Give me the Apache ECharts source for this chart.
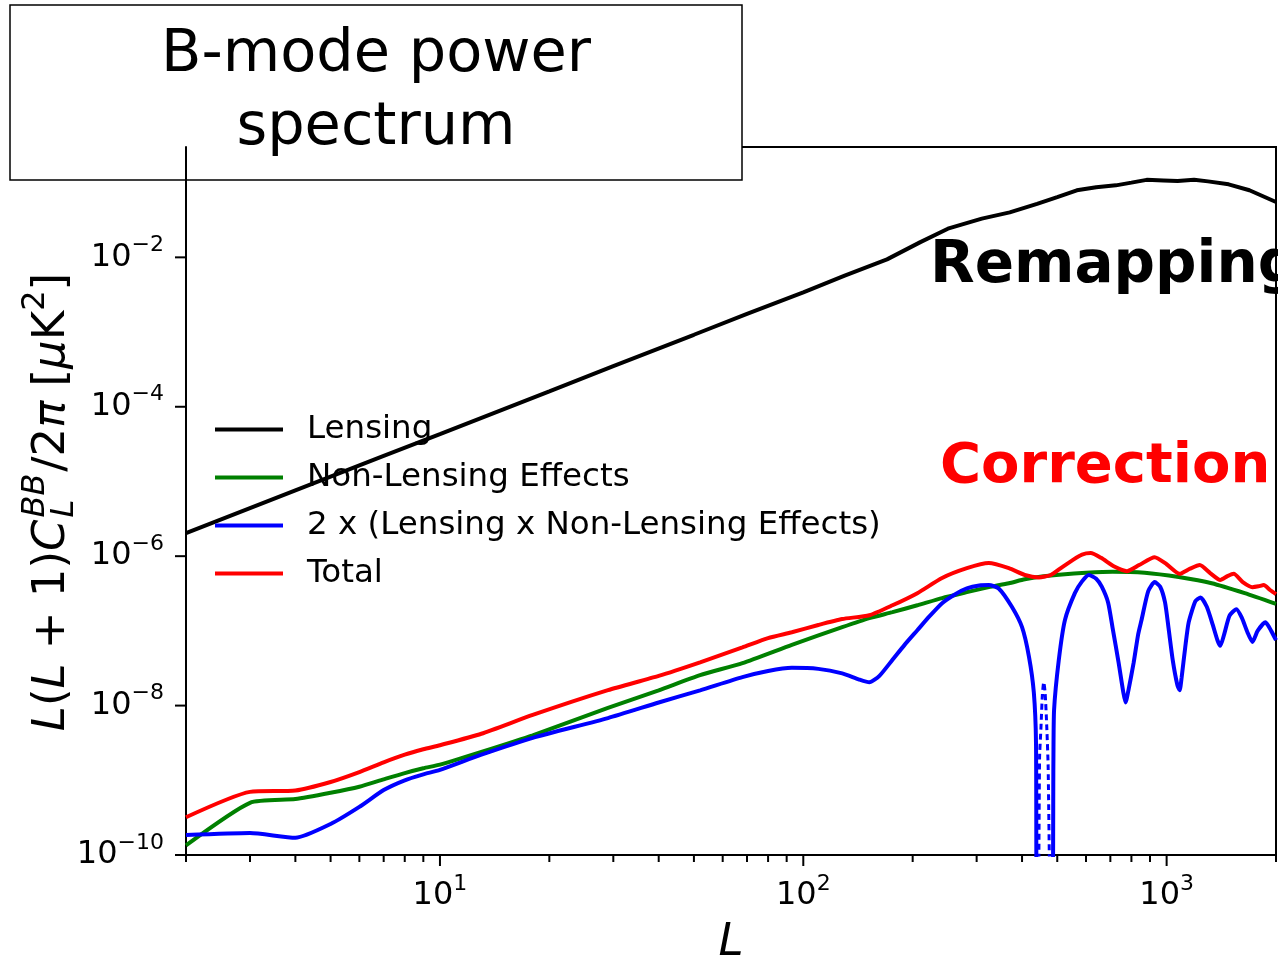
<!DOCTYPE html>
<html>
<head>
<meta charset="utf-8">
<script src="https://cdn.jsdelivr.net/npm/echarts@6/dist/echarts.min.js"></script>
<style>
  html, body { margin: 0; padding: 0; background: #fff; }
  #chart { width: 1278px; height: 960px; }
</style>
</head>
<body>
<div id="chart"></div>
<script>
// 数据
const lensingL = [2, 3, 4, 5, 7, 10, 15, 20, 30, 50, 70, 100, 130, 170, 210, 250, 310, 370, 440, 500, 566, 640, 725, 800, 881, 980, 1072, 1190, 1300, 1481, 1690, 2000];
const lensingCl = [2.03e-6, 4.4e-6, 7.6e-6, 1.16e-5, 2.2e-5, 4.3e-5, 9.3e-5, 1.61e-4, 3.5e-4, 9.2e-4, 1.75e-3, 3.4e-3, 5.7e-3, 9.4e-3, 1.6e-2, 2.42e-2, 3.3e-2, 4.0e-2, 5.2e-2, 6.4e-2, 7.9e-2, 8.7e-2, 9.2e-2, 1.0e-1, 1.09e-1, 1.07e-1, 1.05e-1, 1.09e-1, 1.04e-1, 9.5e-2, 7.9e-2, 5.5e-2];

const nonLensL = [2, 3, 4, 5, 6, 7, 8, 9, 10, 13, 18, 29, 40, 52, 68, 93, 128, 152, 176, 206, 241, 282, 324, 368, 407, 454, 515, 600, 710, 870, 1080, 1330, 1640, 2000];
const nonLensCl = [1.35e-10, 5.0e-10, 5.6e-10, 6.8e-10, 8.2e-10, 1.03e-9, 1.25e-9, 1.45e-9, 1.62e-9, 2.4e-9, 4.0e-9, 9.3e-9, 1.6e-8, 2.56e-8, 3.7e-8, 6.5e-8, 1.12e-7, 1.48e-7, 1.78e-7, 2.2e-7, 2.75e-7, 3.3e-7, 3.85e-7, 4.35e-7, 4.9e-7, 5.35e-7, 5.7e-7, 6.0e-7, 6.2e-7, 6.0e-7, 5.25e-7, 4.35e-7, 3.2e-7, 2.3e-7];

const crossL = [2, 3, 4, 5, 6, 7, 8, 9, 10, 13, 18, 29, 40, 52, 68, 80, 93, 110, 128, 142, 152, 162, 176, 190, 206, 222, 241, 262, 282, 305, 324, 345, 375, 400, 418, 431, 437, 440, 483, 488, 490, 505, 525, 559, 585, 611, 640, 663, 690, 710, 738, 760, 771, 785, 811, 835, 853, 890, 927, 960, 990, 1012, 1040, 1070, 1086, 1100, 1125, 1150, 1200, 1240, 1290, 1340, 1380, 1405, 1440, 1490, 1556, 1610, 1670, 1722, 1780, 1871, 1940, 2000];
const crossCl = [1.85e-10, 1.97e-10, 1.7e-10, 2.6e-10, 4.4e-10, 7.4e-10, 1.0e-9, 1.2e-9, 1.38e-9, 2.2e-9, 3.7e-9, 6.8e-9, 1.1e-8, 1.6e-8, 2.4e-8, 2.9e-8, 3.2e-8, 3.1e-8, 2.7e-8, 2.25e-8, 2.05e-8, 2.5e-8, 4.1e-8, 6.5e-8, 1.02e-7, 1.55e-7, 2.35e-7, 3.1e-7, 3.7e-7, 4.05e-7, 4.1e-7, 3.7e-7, 2.1e-7, 1.12e-7, 4.5e-8, 1.5e-8, 3.2e-9, 1e-11, 1e-11, 1.9e-9, 8.7e-9, 4.1e-8, 1.4e-7, 3.2e-7, 4.6e-7, 5.6e-7, 5.0e-7, 3.9e-7, 2.4e-7, 1.1e-7, 3.7e-8, 1.5e-8, 1.1e-8, 1.6e-8, 3.7e-8, 9e-8, 1.4e-7, 3.4e-7, 4.5e-7, 3.9e-7, 2.4e-7, 1.1e-7, 4e-8, 1.9e-8, 1.6e-8, 2.4e-8, 6e-8, 1.3e-7, 2.5e-7, 2.8e-7, 2.1e-7, 1.2e-7, 7.5e-8, 6.3e-8, 9e-8, 1.6e-7, 1.95e-7, 1.5e-7, 9.5e-8, 7.1e-8, 1.0e-7, 1.3e-7, 1.0e-7, 7.5e-8];

// 负值部分（虚线，取绝对值）
const crossNegL = [444, 447, 451, 455, 459, 463, 468, 472, 478];
const crossNegCl = [1e-11, 2e-9, 5.1e-9, 1.4e-8, 2.06e-8, 1.5e-8, 5e-9, 1.5e-9, 1e-11];

const totalL = [2, 3, 4, 5, 6, 7, 8, 9, 10, 13, 18, 29, 40, 52, 68, 80, 93, 110, 128, 152, 176, 206, 241, 282, 324, 368, 407, 445, 480, 515, 550, 585, 618, 660, 720, 778, 840, 927, 1000, 1086, 1160, 1234, 1320, 1405, 1470, 1530, 1620, 1722, 1790, 1850, 1930, 2000];
const totalCl = [3.2e-10, 7.0e-10, 7.3e-10, 9.5e-10, 1.29e-9, 1.74e-9, 2.2e-9, 2.6e-9, 2.95e-9, 4.2e-9, 7.5e-9, 1.61e-8, 2.5e-8, 3.8e-8, 6.0e-8, 8.0e-8, 9.6e-8, 1.2e-7, 1.44e-7, 1.62e-7, 2.2e-7, 3.2e-7, 5.1e-7, 6.9e-7, 8.1e-7, 6.9e-7, 5.6e-7, 5.2e-7, 5.6e-7, 7.1e-7, 8.8e-7, 1.05e-6, 1.1e-6, 9.5e-7, 7.2e-7, 6.3e-7, 7.6e-7, 9.7e-7, 7.8e-7, 5.8e-7, 6.8e-7, 7.6e-7, 5.9e-7, 4.8e-7, 5.4e-7, 5.8e-7, 4.5e-7, 3.85e-7, 3.95e-7, 4.1e-7, 3.5e-7, 3.1e-7];

const legendNames = ['Lensing', 'Non-Lensing Effects', '2 x (Lensing x Non-Lensing Effects)', 'Total'];

// 刻度
const xMajorTicks = [10, 100, 1000];
const xMinorTicks = [2, 3, 4, 5, 6, 7, 8, 9, 20, 30, 40, 50, 60, 70, 80, 90, 200, 300, 400, 500, 600, 700, 800, 900, 2000];
const yMajorTicks = [1e-10, 1e-8, 1e-6, 1e-4, 1e-2];

const X_MIN = 2, X_MAX = 2000, Y_MIN = 1e-10, Y_MAX = 0.3;
const FONT = '"DejaVu Sans", sans-serif';

const pairs = (xs, ys) => xs.map((x, i) => [x, ys[i]]);

const supRich = {
  base: { fontSize: 32, fontFamily: FONT, color: '#000' },
  sup: { fontSize: 22, fontFamily: FONT, color: '#000', padding: [0, 0, 24, 0] }
};

const expLabel = (v, onlyEven) => {
  const e = Math.log10(v);
  const r = Math.round(e);
  if (Math.abs(e - r) > 1e-6) return '';
  if (onlyEven && r % 2 !== 0) return '';
  return '{base|10}{sup|' + String(r).replace('-', '\u2212') + '}';
};

// y轴标题：旋转的公式文字
const measure = document.createElement('canvas').getContext('2d');
const textW = (t, size, italic) => {
  measure.font = (italic ? 'italic ' : '') + size + 'px ' + FONT;
  return measure.measureText(t).width;
};
const yLabelParts = [
  { t: 'L', s: 45, i: true, dy: 0 },
  { t: '(', s: 45, i: false, dy: 0 },
  { t: 'L', s: 45, i: true, dy: 0 },
  { t: ' + 1)', s: 45, i: false, dy: 0 },
  { t: 'C', s: 45, i: true, dy: 0 },
  { t: 'BB', s: 32, i: true, dy: -16, stack: true },
  { t: 'L', s: 32, i: true, dy: 13, after: 'BB' },
  { t: '/2', s: 45, i: false, dy: 0 },
  { t: '\u03c0', s: 45, i: true, dy: 0 },
  { t: ' [', s: 45, i: false, dy: 0 },
  { t: '\u03bc', s: 45, i: true, dy: 0 },
  { t: 'K', s: 45, i: false, dy: 0 },
  { t: '2', s: 32, i: false, dy: -16 },
  { t: ']', s: 45, i: false, dy: 0 }
];
const yLabelChildren = [];
let cursor = 0;
let stackStart = 0;
yLabelParts.forEach(p => {
  let x = cursor;
  if (p.after) x = stackStart;
  yLabelChildren.push({
    type: 'text', x: x, y: p.dy,
    style: { text: p.t, fontSize: p.s, fontFamily: FONT, fontStyle: p.i ? 'italic' : 'normal', fill: '#000', align: 'left', verticalAlign: 'middle' }
  });
  if (p.stack) { stackStart = cursor + 2; yLabelChildren[yLabelChildren.length - 1].x = stackStart; cursor = stackStart + textW(p.t, p.s, p.i) + 2; }
  else if (!p.after) cursor += textW(p.t, p.s, p.i);
});
const yLabelLen = cursor;

const chart = echarts.init(document.getElementById('chart'), null, { renderer: 'canvas' });

chart.setOption({
  animation: false,
  backgroundColor: '#fff',
  grid: {
    left: 186, right: 2, top: 147, bottom: 105,
    containLabel: false, outerBoundsMode: 'none',
    show: true, borderColor: '#000', borderWidth: 2, backgroundColor: 'transparent'
  },
  legend: {
    data: legendNames,
    orient: 'vertical',
    left: 210,
    top: 407,
    icon: 'rect',
    itemWidth: 68,
    itemHeight: 4,
    itemGap: 13,
    textStyle: { fontSize: 32.5, fontFamily: FONT, color: '#000', lineHeight: 35, padding: [0, 0, 0, 19] },
    selectedMode: false
  },
  xAxis: {
    type: 'log',
    logBase: 10,
    min: X_MIN,
    max: X_MAX,
    name: 'L',
    nameLocation: 'middle',
    nameGap: 66,
    nameTextStyle: { fontSize: 45, fontStyle: 'italic', fontFamily: FONT, color: '#000' },
    axisLine: { show: true, lineStyle: { color: '#000', width: 2 } },
    axisTick: { show: false },
    splitLine: { show: false },
    minorTick: { show: false },
    axisLabel: {
      margin: 18,
      formatter: v => expLabel(v, false),
      rich: supRich
    }
  },
  yAxis: {
    type: 'log',
    logBase: 10,
    min: Y_MIN,
    max: Y_MAX,
    axisLine: { show: true, lineStyle: { color: '#000', width: 2 } },
    axisTick: { show: false },
    splitLine: { show: false },
    minorTick: { show: false },
    axisLabel: {
      margin: 22,
      formatter: v => expLabel(v, true),
      rich: supRich
    }
  },
  series: [
    {
      name: 'Lensing', type: 'line', data: pairs(lensingL, lensingCl),
      showSymbol: false, color: '#000', lineStyle: { color: '#000', width: 4 }, z: 2
    },
    {
      name: 'Non-Lensing Effects', type: 'line', data: pairs(nonLensL, nonLensCl),
      showSymbol: false, smooth: 0.2, color: '#008000', lineStyle: { color: '#008000', width: 4 }, z: 2
    },
    {
      name: '2 x (Lensing x Non-Lensing Effects)', type: 'line', data: pairs(crossL, crossCl),
      showSymbol: false, smooth: 0.2, color: '#0000ff', lineStyle: { color: '#0000ff', width: 4 }, z: 3
    },
    {
      name: 'negative part', type: 'line', data: pairs(crossNegL, crossNegCl),
      showSymbol: false, smooth: 0.2, color: '#0000ff', lineStyle: { color: '#0000ff', width: 3, type: [6, 4] }, z: 3
    },
    {
      name: 'Total', type: 'line', data: pairs(totalL, totalCl),
      showSymbol: false, smooth: 0.2, color: '#ff0000', lineStyle: { color: '#ff0000', width: 4 }, z: 4
    }
  ]
});

// 刻度线：位置由坐标轴换算得到
const tickLines = [];
const addXTick = (v, len) => {
  const p = chart.convertToPixel({ xAxisIndex: 0, yAxisIndex: 0 }, [v, Y_MIN]);
  tickLines.push({ type: 'line', shape: { x1: p[0], y1: p[1], x2: p[0], y2: p[1] + len }, style: { stroke: '#000', lineWidth: 2 } });
};
xMajorTicks.forEach(v => addXTick(v, 11));
xMinorTicks.forEach(v => addXTick(v, 7));
yMajorTicks.forEach(v => {
  const p = chart.convertToPixel({ xAxisIndex: 0, yAxisIndex: 0 }, [X_MIN, v]);
  tickLines.push({ type: 'line', shape: { x1: p[0], y1: p[1], x2: p[0] - 11, y2: p[1] }, style: { stroke: '#000', lineWidth: 2 } });
});

chart.setOption({
  graphic: [
    { type: 'group', z: 5, children: tickLines },
    {
      type: 'group', x: 52, y: 502 + yLabelLen / 2, rotation: Math.PI / 2,
      children: yLabelChildren
    },
    {
      type: 'text', x: 930, y: 267, z: 50,
      style: { text: 'Remapping', fontSize: 58, fontWeight: 'bold', fontFamily: FONT, fill: '#000', align: 'left', verticalAlign: 'middle' }
    },
    {
      type: 'text', x: 940, y: 467, z: 50,
      style: { text: 'Correction', fontSize: 56, fontWeight: 'bold', fontFamily: FONT, fill: '#ff0000', align: 'left', verticalAlign: 'middle' }
    },
    {
      type: 'group', z: 100,
      children: [
        { type: 'rect', shape: { x: 10, y: 5, width: 732, height: 175 }, style: { fill: '#fff', stroke: '#000', lineWidth: 1.5 } },
        {
          type: 'text', x: 376, y: 92,
          style: { text: 'B-mode power\nspectrum', fontSize: 59, lineHeight: 73, fontFamily: FONT, fill: '#000', align: 'center', verticalAlign: 'middle' }
        }
      ]
    }
  ]
});
</script>
</body>
</html>
